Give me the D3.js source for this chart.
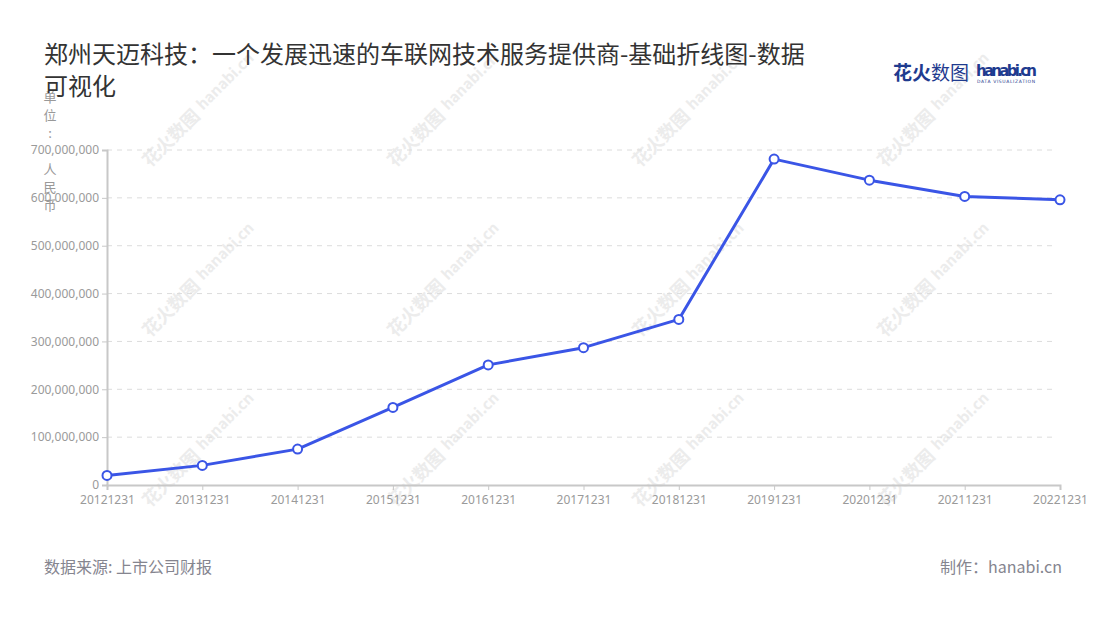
<!DOCTYPE html>
<html><head><meta charset="utf-8">
<script src="https://cdn.jsdelivr.net/npm/d3@7/dist/d3.min.js"></script>
<style>
html,body{margin:0;padding:0;background:#fff;}
svg{display:block;font-family:"Noto Sans CJK SC","Noto Sans",sans-serif;}
</style></head>
<body>
<svg id="chart" width="1100" height="620"></svg>
<script>
const categories = ["20121231","20131231","20141231","20151231","20161231","20171231","20181231","20191231","20201231","20211231","20221231"];
const values = [20000000,41000000,75000000,162000000,251000000,287000000,346000000,681000000,637000000,603000000,596000000];
const yTicks = [0,100000000,200000000,300000000,400000000,500000000,600000000,700000000];
const titleLines = ["郑州天迈科技：一个发展迅速的车联网技术服务提供商-基础折线图-数据","可视化"];
const yLabel = "单位: 人民币";
const sourceText = "数据来源: 上市公司财报";
const makerText = "制作：hanabi.cn";

const svg = d3.select("#chart");
const mLeft = 107, mRight = 1060, mTop = 150, mBottom = 485;

// watermarks
const wm = svg.append("g").attr("fill", "#ececec");
[150, 395, 640, 885].forEach(cx => {
  [168, 338, 508].forEach(cy => {
    const g = wm.append("g").attr("transform", `translate(${cx},${cy}) rotate(-45)`);
    g.append("text").attr("font-size", 18).attr("font-weight", "bold").text("花火数图");
    g.append("text").attr("x", 78).attr("y", -3).attr("font-size", 15).attr("font-weight", "bold").text("hanabi.cn");
  });
});

const x = d3.scalePoint().domain(categories).range([mLeft, mRight]);
const y = d3.scaleLinear().domain([0, 700000000]).range([mBottom, mTop]);

// grid
svg.append("g").selectAll("line").data(yTicks.filter(d => d > 0)).join("line")
  .attr("x1", mLeft).attr("x2", mRight - 5)
  .attr("y1", d => y(d)).attr("y2", d => y(d))
  .attr("stroke", "#dcdcdc").attr("stroke-dasharray", "5,5").attr("stroke-width", 1);

// y axis
const yAxis = svg.append("g").attr("transform", `translate(${mLeft},0)`)
  .call(d3.axisLeft(y).tickValues(yTicks).tickFormat(d3.format(",")).tickSize(5).tickPadding(3));
yAxis.select(".domain").attr("stroke", "#c8c8c8").attr("stroke-width", 2);
yAxis.selectAll(".tick line").attr("stroke", "#c8c8c8");
yAxis.selectAll("text").attr("fill", "#9a9a9a").attr("font-size", 12).attr("font-family", "'Noto Sans', sans-serif");

// x axis
const xAxis = svg.append("g").attr("transform", `translate(0,${mBottom})`)
  .call(d3.axisBottom(x).tickSize(5).tickPadding(5));
xAxis.select(".domain").attr("stroke", "#c8c8c8").attr("stroke-width", 2);
xAxis.selectAll(".tick line").attr("stroke", "#c8c8c8");
xAxis.selectAll("text").attr("fill", "#9a9a9a").attr("font-size", 12).attr("font-family", "'Noto Sans', sans-serif");

// line
const color = "#3a55e6";
const data = categories.map((c, i) => ({c, v: values[i]}));
svg.append("path").datum(data)
  .attr("fill", "none").attr("stroke", color).attr("stroke-width", 3).attr("stroke-linejoin", "round")
  .attr("d", d3.line().x(d => x(d.c)).y(d => y(d.v)));
svg.append("g").selectAll("circle").data(data).join("circle")
  .attr("cx", d => x(d.c)).attr("cy", d => y(d.v)).attr("r", 4.5)
  .attr("fill", "#fff").attr("stroke", color).attr("stroke-width", 2);

// y label (vertical)
const yl = svg.append("text").attr("x", 50).attr("y", 102).attr("fill", "#999")
  .attr("font-size", 13).attr("text-anchor", "middle");
Array.from(yLabel).forEach((ch, i) => {
  yl.append("tspan").attr("x", 50).attr("dy", i === 0 ? 0 : 18).text(ch);
});

// title
const t = svg.append("text").attr("x", 44).attr("y", 63).attr("fill", "#333").attr("font-size", 24);
titleLines.forEach((l, i) => t.append("tspan").attr("x", 44).attr("dy", i === 0 ? 0 : 32).text(l));

// logo
const logo = svg.append("g");
logo.append("text").attr("x", 893).attr("y", 80).attr("fill", "#1f3b8f").attr("font-size", 19).attr("font-weight", "bold").text("花火");
logo.append("text").attr("x", 931).attr("y", 80).attr("fill", "#1f3b8f").attr("font-size", 19).text("数图");
logo.append("text").attr("x", 976).attr("y", 76).attr("fill", "#1f3b8f").attr("font-size", 15).attr("font-weight", "bold")
  .attr("font-family", "'DejaVu Sans', sans-serif").attr("textLength", 61).text("hanabi.cn");
logo.append("text").attr("x", 977).attr("y", 83).attr("fill", "#1f3b8f").attr("font-size", 4.5)
  .attr("font-family", "'DejaVu Sans', sans-serif").attr("textLength", 58).text("DATA VISUALIZATION");

// footer
svg.append("text").attr("x", 44).attr("y", 573).attr("fill", "#85858f").attr("font-size", 16).text(sourceText);
svg.append("text").attr("x", 1062).attr("y", 573).attr("text-anchor", "end").attr("fill", "#85858f").attr("font-size", 16).text(makerText);
</script>
</body></html>
